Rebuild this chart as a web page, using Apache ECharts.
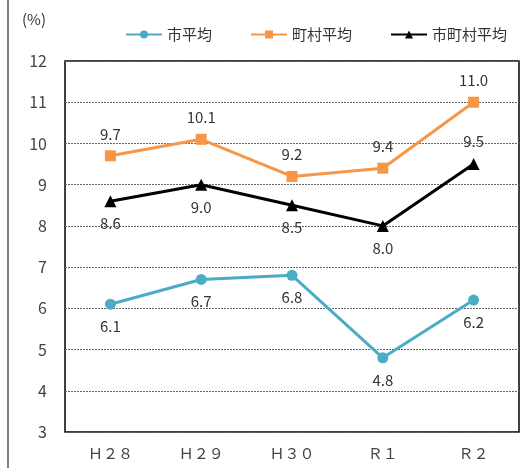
<!DOCTYPE html>
<html>
<head>
<meta charset="utf-8">
<script src="https://cdn.jsdelivr.net/npm/echarts@6/dist/echarts.min.js"></script>
<style>
  html, body { margin: 0; padding: 0; background: #fff; }
  #chart { width: 530px; height: 468px; }
</style>
</head>
<body>
<div id="chart"></div>
<script>
const categories = ['Ｈ２８', 'Ｈ２９', 'Ｈ３０', 'Ｒ１', 'Ｒ２']
const cityAvg = [6.1, 6.7, 6.8, 4.8, 6.2]
const townAvg = [9.7, 10.1, 9.2, 9.4, 11.0]
const allAvg = [8.6, 9.0, 8.5, 8.0, 9.5]
const allLabelPos = ['bottom', 'bottom', 'bottom', 'bottom', 'top']

const font = '"Noto Sans CJK JP", sans-serif'
const chart = echarts.init(document.getElementById('chart'))

const labelStyle = {
  show: true,
  color: '#333',
  fontSize: 15,
  fontFamily: font,
  distance: 9,
  formatter: p => p.value.toFixed(1)
}

chart.setOption({
  animation: false,
  textStyle: { fontFamily: font },
  legend: {
    top: 22,
    left: 120,
    itemGap: 38,
    itemWidth: 36,
    itemHeight: 10,
    textStyle: { fontSize: 15, color: '#333', fontFamily: font },
    data: ['市平均', '町村平均', '市町村平均']
  },
  grid: { left: 65, right: 11, top: 61, bottom: 36, show: true, borderColor: '#000', borderWidth: 1.5 },
  graphic: [
    { type: 'line', shape: { x1: 8, y1: 0, x2: 8, y2: 468 }, style: { stroke: '#000', lineWidth: 1 } },
    { type: 'text', left: 22, top: 12, style: { text: '(%)', fontSize: 15, fill: '#333', fontFamily: font } }
  ],
  xAxis: {
    type: 'category',
    data: categories,
    boundaryGap: true,
    axisLine: { show: false },
    axisTick: { show: false },
    axisLabel: { color: '#444', fontSize: 15, margin: 14, fontFamily: font }
  },
  yAxis: {
    type: 'value',
    min: 3,
    max: 12,
    interval: 1,
    axisLine: { show: false },
    axisTick: { show: false },
    axisLabel: { color: '#444', fontSize: 16, margin: 18, fontFamily: font },
    splitLine: { lineStyle: { color: '#666', type: [2, 1], width: 1 } }
  },
  series: [
    {
      name: '市平均',
      type: 'line',
      data: cityAvg,
      symbol: 'circle',
      symbolSize: 11,
      color: '#4BACC6',
      lineStyle: { width: 3 },
      label: Object.assign({}, labelStyle, { position: 'bottom' })
    },
    {
      name: '町村平均',
      type: 'line',
      data: townAvg,
      symbol: 'rect',
      symbolSize: 11,
      color: '#F79646',
      lineStyle: { width: 3 },
      label: Object.assign({}, labelStyle, { position: 'top' })
    },
    {
      name: '市町村平均',
      type: 'line',
      data: allAvg.map((v, i) => ({ value: v, label: { position: allLabelPos[i] } })),
      symbol: 'triangle',
      symbolSize: 12,
      color: '#000',
      lineStyle: { width: 3 },
      label: labelStyle
    }
  ]
})
</script>
</body>
</html>
